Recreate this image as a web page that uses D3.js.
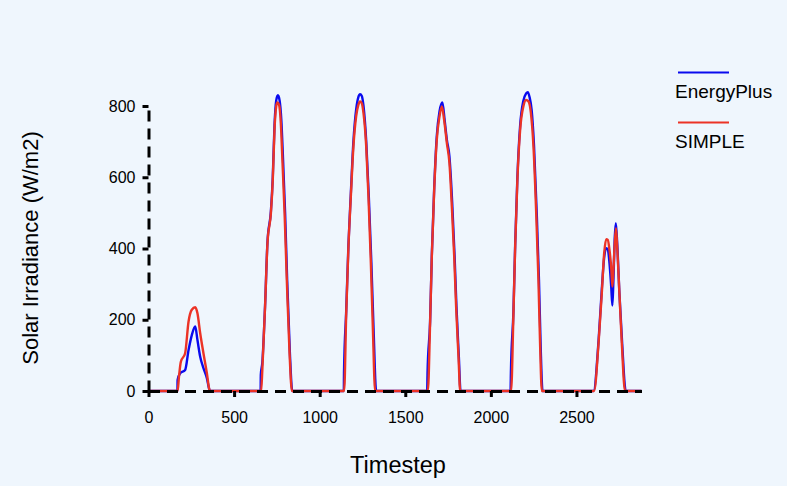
<!DOCTYPE html>
<html>
<head>
<meta charset="utf-8">
<script src="https://cdn.jsdelivr.net/npm/d3@7"></script>
<style>
  body { margin: 0; background: #eff6fd; }
  svg { display: block; font-family: "Liberation Sans", Arial, Helvetica, sans-serif; }
</style>
</head>
<body>
<div id="chart"></div>
<script>
// timestep / irradiance pairs
var energyPlus = [
  [0,0],[169,0],[170,31],[185,50],[214,59],[234,115],[253,157],[273,181],[286,143],[302,96],[321,64],[341,36],[356,3],[360,0],
  [655,0],[656,45],[665,80],[681,240],[695,418],[715,505],[726,600],[736,745],[746,815],[756,830],[766,815],[776,760],[786,650],[798,500],[810,312],[826,106],[840,0],
  [1141,0],[1142,50],[1155,225],[1168,410],[1182,555],[1197,700],[1213,790],[1226,825],[1236,833],[1246,828],[1256,800],[1272,700],[1287,546],[1302,359],[1315,171],[1330,0],
  [1628,0],[1630,50],[1645,195],[1655,380],[1669,570],[1684,715],[1700,785],[1717,810],[1730,760],[1743,705],[1758,658],[1774,530],[1788,380],[1799,237],[1813,96],[1823,0],
  [2115,0],[2117,50],[2132,225],[2142,410],[2155,600],[2171,745],[2190,815],[2206,835],[2216,839],[2226,825],[2238,790],[2252,690],[2268,499],[2281,312],[2291,124],[2302,0],
  [2600,0],[2629,140],[2648,285],[2662,375],[2674,401],[2683,398],[2693,359],[2703,293],[2710,240],[2716,312],[2724,433],[2730,471],[2738,415],[2751,274],[2767,134],[2788,0],
  [2880,0]
];

var simple = [
  [0,0],[170,0],[178,40],[189,82],[214,106],[234,195],[253,228],[273,235],[286,218],[302,162],[321,106],[341,50],[356,3],[360,0],
  [658,0],[665,60],[681,237],[695,415],[715,499],[726,593],[736,733],[746,799],[753,810],[763,803],[773,752],[783,640],[795,499],[808,312],[824,106],[838,0],
  [1143,0],[1155,218],[1168,405],[1182,546],[1197,686],[1213,771],[1226,803],[1236,813],[1246,808],[1256,780],[1272,686],[1285,546],[1299,359],[1311,171],[1324,0],
  [1632,0],[1645,190],[1655,377],[1669,565],[1684,705],[1700,771],[1714,799],[1727,761],[1743,696],[1758,640],[1772,518],[1786,377],[1797,237],[1811,96],[1821,0],
  [2118,0],[2132,218],[2142,405],[2155,593],[2171,733],[2190,799],[2206,817],[2220,813],[2234,780],[2249,686],[2265,499],[2278,312],[2288,124],[2298,0],
  [2603,0],[2629,134],[2648,274],[2662,387],[2674,426],[2683,424],[2693,396],[2704,340],[2710,293],[2716,340],[2724,415],[2731,457],[2739,396],[2751,274],[2765,134],[2784,0],
  [2880,0]
];

var xTicks = [0, 500, 1000, 1500, 2000, 2500];
var yTicks = [0, 200, 400, 600, 800];
var seriesNames = ["EnergyPlus", "SIMPLE"];
var seriesColors = ["#0a0aee", "#ec3326"];

var width = 787, height = 486;

var svg = d3.select("#chart").append("svg")
  .attr("width", width).attr("height", height);

svg.append("rect").attr("width", width).attr("height", height).attr("fill", "#eff6fd");

var x = d3.scaleLinear().domain([0, 2880]).range([148.5, 641.5]);
var y = d3.scaleLinear().domain([0, 800]).range([391, 106]);

var line = d3.line()
  .x(function(d) { return x(d[0]); })
  .y(function(d) { return y(d[1]); })
  .curve(d3.curveMonotoneX);

[energyPlus, simple].forEach(function(s, i) {
  svg.append("path")
    .datum(s)
    .attr("fill", "none")
    .attr("stroke", seriesColors[i])
    .attr("stroke-width", 2.4)
    .attr("stroke-linejoin", "round")
    .attr("d", line);
});

// axes, drawn over the lines so the dashes sit on top
var xAxis = svg.append("g")
  .attr("transform", "translate(0," + y(0) + ")")
  .call(d3.axisBottom(x).tickValues(xTicks).tickFormat(d3.format("d"))
    .tickSizeInner(6).tickSizeOuter(0).tickPadding(15));

var yAxis = svg.append("g")
  .attr("transform", "translate(" + x(0) + ",0)")
  .call(d3.axisLeft(y).tickValues(yTicks).tickFormat(d3.format("d"))
    .tickSizeInner(6).tickSizeOuter(0).tickPadding(7));

[xAxis, yAxis].forEach(function(g) {
  g.select(".domain")
    .attr("stroke", "#000")
    .attr("stroke-width", 3)
    .attr("stroke-dasharray", "11,7");
  g.selectAll(".tick line").attr("stroke", "#000").attr("stroke-width", 3);
  g.selectAll(".tick text")
    .attr("fill", "#000")
    .style("font-size", "16px")
    .style("font-family", "'Liberation Sans', Arial, sans-serif");
});

svg.append("text")
  .attr("x", 398).attr("y", 473)
  .attr("text-anchor", "middle")
  .style("font-size", "23.5px")
  .text("Timestep");

svg.append("text")
  .attr("transform", "translate(38,248) rotate(-90)")
  .attr("text-anchor", "middle")
  .style("font-size", "22px")
  .text("Solar Irradiance (W/m2)");

// legend
var legend = svg.append("g").attr("transform", "translate(675,72)");
seriesNames.forEach(function(name, i) {
  var g = legend.append("g").attr("transform", "translate(0," + (i * 50) + ")");
  g.append("line")
    .attr("x1", 3).attr("x2", 54)
    .attr("y1", 0.5).attr("y2", 0.5)
    .attr("stroke", seriesColors[i])
    .attr("stroke-width", 2);
  g.append("text")
    .attr("x", 0).attr("y", 25.5)
    .style("font-size", "19px")
    .text(name);
});
</script>
</body>
</html>
